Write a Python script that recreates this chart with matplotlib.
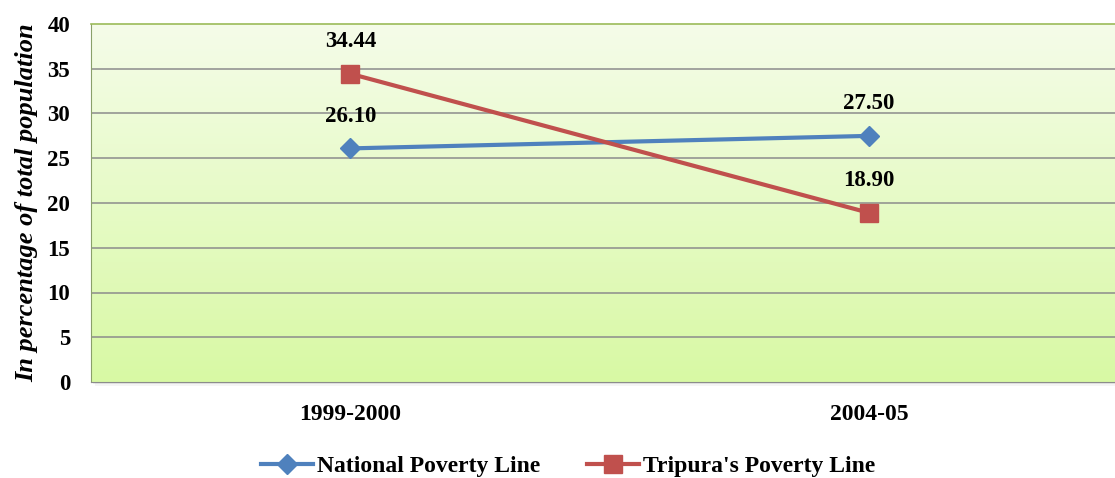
import matplotlib
matplotlib.use("Agg")
import matplotlib.pyplot as plt
import numpy as np
from matplotlib.colors import LinearSegmentedColormap
from matplotlib.patches import Rectangle

categories = ["1999-2000", "2004-05"]
national = [26.10, 27.50]
tripura = [34.44, 18.90]
yticks = [0, 5, 10, 15, 20, 25, 30, 35, 40]

plt.rcParams['font.family'] = ['Liberation Serif', 'DejaVu Serif']

W, H = 1115, 478
fig = plt.figure(figsize=(W / 100, H / 100), dpi=100)
left, right = 91, 1128.5
top, bottom = 24, 382
axpos = [left / W, (H - bottom) / H, (right - left) / W, (bottom - top) / H]

# soft shadow under the plot area
for i, a in enumerate([0.10, 0.07, 0.04]):
    off = (i + 1) * 1.2
    fig.patches.append(Rectangle(((left + off) / W, (H - bottom - off) / H),
                                 (right - left) / W, (bottom - top) / H,
                                 transform=fig.transFigure, facecolor='black',
                                 edgecolor='none', alpha=a, zorder=0))

ax = fig.add_axes(axpos)
ax.set_zorder(1)

x = np.arange(len(categories)) + 0.5
ax.set_xlim(0, len(categories))
ax.set_ylim(0, 40)

cmap = LinearSegmentedColormap.from_list("g", ["#d8f9a4", "#f5fce9"])
grad = np.linspace(0, 1, 256).reshape(-1, 1)
ax.imshow(grad, aspect='auto', cmap=cmap, origin='lower',
          extent=[0, len(categories), 0, 40], zorder=0)

for yv in yticks[1:-1]:
    ax.axhline(yv, color='#8c8c8c', lw=1.1, zorder=1)

for s in ax.spines.values():
    s.set_visible(False)
ax.spines['top'].set_visible(True)
ax.spines['top'].set_color('#9bbb59')
ax.spines['top'].set_linewidth(1.2)
ax.spines['left'].set_visible(True)
ax.spines['left'].set_color('#8aa06a')
ax.spines['bottom'].set_visible(True)
ax.spines['bottom'].set_color('#8c8c8c')

ax.plot(x, national, color='#4f81bd', lw=3, marker='D', markersize=10,
        label='National Poverty Line', zorder=3)
ax.plot(x, tripura, color='#c0504d', lw=3, marker='s', markersize=13,
        label="Tripura's Poverty Line", zorder=3)

for xi, v in zip(x, national):
    ax.annotate(f"{v:.2f}", (xi, v), xytext=(0, 23), textcoords='offset points',
                ha='center', va='center', fontsize=16.5, fontweight='bold', zorder=4)
for xi, v in zip(x, tripura):
    ax.annotate(f"{v:.2f}", (xi, v), xytext=(0, 23), textcoords='offset points',
                ha='center', va='center', fontsize=16.5, fontweight='bold', zorder=4)

ax.set_xticks(x)
ax.set_xticklabels(categories, fontsize=17, fontweight='bold')
ax.set_yticks(yticks)
ax.set_yticklabels([str(t) for t in yticks], fontsize=16.5, fontweight='bold')
ax.tick_params(axis='both', length=0)
ax.tick_params(axis='y', pad=15)
ax.tick_params(axis='x', pad=16)

fig.text(27 / W, 1 - 203 / H, "In percentage of total population", rotation=90,
         ha='center', va='center', fontsize=19, fontweight='bold', style='italic')

leg = fig.legend(loc='center', bbox_to_anchor=(568 / W, 1 - 466 / H), ncol=2,
                 frameon=False, prop={'size': 17, 'weight': 'bold'},
                 handlelength=2.2, columnspacing=2.0, handletextpad=0.15)

fig.savefig("out.png", dpi=100)
